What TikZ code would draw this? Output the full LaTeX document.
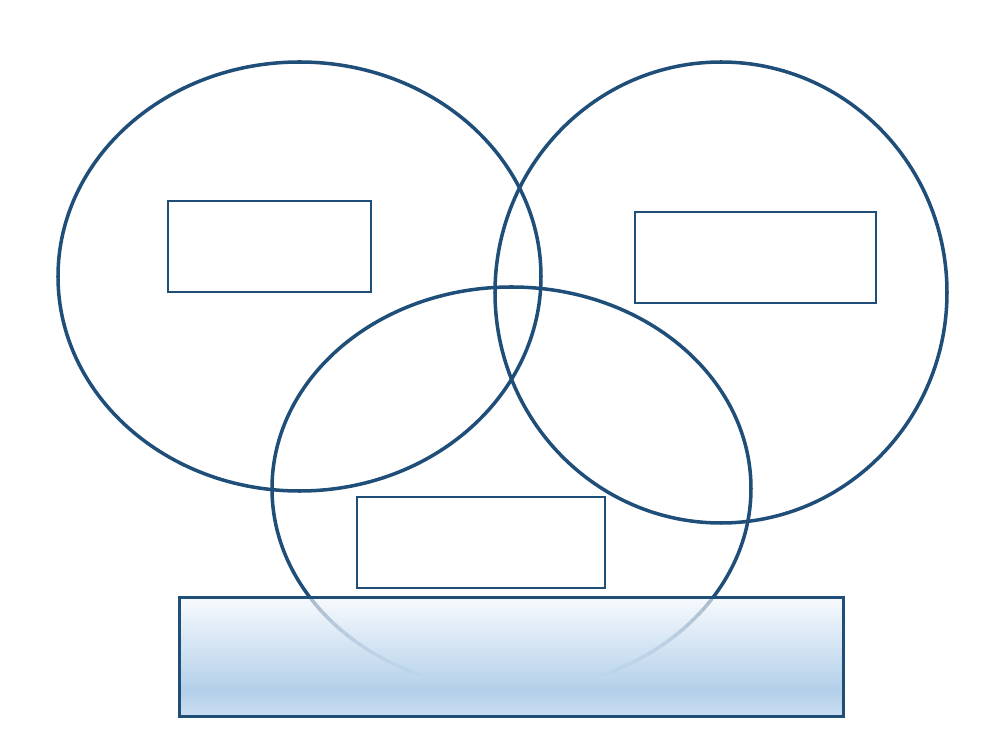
\documentclass[tikz,border=0pt]{standalone}
\usepackage{tikz}
\usetikzlibrary{positioning}
\definecolor{ringblue}{RGB}{31,78,121}
\definecolor{boxtop}{RGB}{247,250,253}
\definecolor{boxmid}{RGB}{179,208,234}
\definecolor{boxlow}{RGB}{203,222,241}
\pgfdeclareverticalshading{boxshade}{100bp}{color(0bp)=(boxlow); color(25bp)=(boxlow); color(36bp)=(boxmid); color(75bp)=(boxtop); color(100bp)=(boxtop)}
\tikzset{
  ring/.style={draw=ringblue, line width=1pt},
  label box/.style={draw=ringblue, line width=0.85pt, inner sep=0pt, minimum height=9.1mm}
}

\begin{document}
\begin{tikzpicture}[x=0.1mm,y=-0.1mm]
  \useasboundingbox (0,0) rectangle (1000,750);
  \draw[ring] (299.5,276.5) ellipse [x radius=241.5, y radius=214.5];
  \draw[ring] (721,292.5) ellipse [x radius=226, y radius=230.5];
  \draw[ring] (511.5,488.5) ellipse [x radius=239.5, y radius=201.5];
  \node[label box, minimum width=20.3mm] (left) at (269.5,246.5) {};
  \node[label box, minimum width=24.1mm] (right) at (755.5,257.5) {};
  \node[label box, minimum width=24.8mm] (middle) at (481,542.5) {};
  \node[inner sep=0pt, minimum width=66.3mm, minimum height=11.8mm] (base) at (511.5,657) {};
  \shade[shading=boxshade] (base.north west) rectangle (base.south east);
  \foreach \a in {33,35,...,145} {
    \pgfmathsetmacro\op{0.36*max(0,1-(488.5+201.5*sin(\a+1)-598)/82)^1.2}
    \draw[ring, draw opacity=\op] (511.5,488.5) ++(\a:239.5 and 201.5)
      arc [start angle=\a, end angle=\a+2, x radius=239.5, y radius=201.5];
  }
  \draw[ringblue, line width=0.85pt] (base.north west) rectangle (base.south east);
\end{tikzpicture}
\end{document}
